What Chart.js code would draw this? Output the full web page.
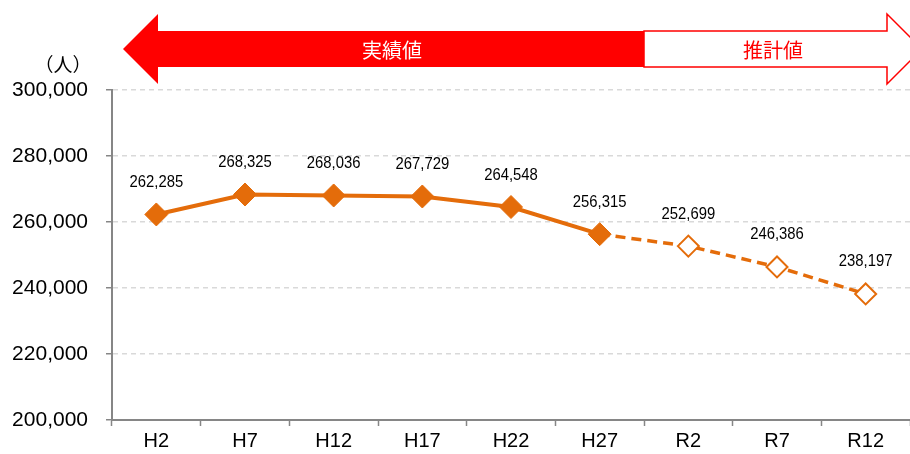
<!DOCTYPE html>
<html><head><meta charset="utf-8">
<script src="https://cdn.jsdelivr.net/npm/chart.js@4/dist/chart.umd.min.js"></script>
<style>html,body{margin:0;padding:0;background:#fff}#wrap{width:910px;height:454px}</style>
</head><body><div id="wrap"><canvas id="c" width="910" height="454"></canvas></div>
<script>
const categories = ["H2","H7","H12","H17","H22","H27","R2","R7","R12"];
const actualValues = [262285,268325,268036,267729,264548,256315,null,null,null];
const forecastValues = [null,null,null,null,null,256315,252699,246386,238197];
const labelValues = [262285,268325,268036,267729,264548,256315,252699,246386,238197];
const yTicks = {min:200000, max:300000, step:20000};
const unitLabel = "（人）";
const actualLabel = "実績値";
const forecastLabel = "推計値";
const ORANGE = "#E46C0A";
const RED = "#FF0000";

const decor = {
  id:'decor',
  afterDraw(chart){
    const ctx = chart.ctx, ca = chart.chartArea, xs = chart.scales.x, ys = chart.scales.y;
    ctx.save();
    ctx.font = '16.5px "Liberation Sans", Arial, sans-serif';
    ctx.fillStyle = '#000'; ctx.textAlign = 'center'; ctx.textBaseline = 'middle';
    labelValues.forEach((v,i)=>{
      const x = xs.getPixelForValue(i), y = ys.getPixelForValue(v);
      ctx.save();
      ctx.translate(x, y - 32);
      ctx.scale(0.9, 1);
      ctx.fillText(v.toLocaleString('en-US'), 0, 0);
      ctx.restore();
    });
    ctx.font = '19px "Noto Sans CJK JP", sans-serif';
    ctx.fillText(unitLabel, 63, ca.top - 25);
    const cy = ca.top - 41, hh = 35, sh = 18;
    const split = (xs.getPixelForValue(5) + xs.getPixelForValue(6)) / 2;
    const lt = ca.left + 11, lb = lt + 35;
    ctx.fillStyle = RED;
    ctx.beginPath();
    ctx.moveTo(lt, cy); ctx.lineTo(lb, cy - hh); ctx.lineTo(lb, cy - sh);
    ctx.lineTo(split, cy - sh); ctx.lineTo(split, cy + sh); ctx.lineTo(lb, cy + sh);
    ctx.lineTo(lb, cy + hh); ctx.closePath(); ctx.fill();
    const rb = ca.right - 23, rt = rb + 35;
    ctx.beginPath();
    ctx.moveTo(split, cy - sh); ctx.lineTo(rb, cy - sh); ctx.lineTo(rb, cy - hh);
    ctx.lineTo(rt, cy); ctx.lineTo(rb, cy + hh); ctx.lineTo(rb, cy + sh);
    ctx.lineTo(split, cy + sh); ctx.closePath();
    ctx.fillStyle = '#fff'; ctx.fill();
    ctx.strokeStyle = RED; ctx.lineWidth = 1.5; ctx.stroke();
    ctx.font = '20px "Noto Sans CJK JP", sans-serif';
    ctx.fillStyle = '#fff';
    ctx.fillText(actualLabel, 392, cy + 1);
    ctx.fillStyle = RED;
    ctx.fillText(forecastLabel, 773, cy + 1);
    ctx.restore();
  }
};

new Chart(document.getElementById('c'), {
  type:'line',
  data:{
    labels: categories,
    datasets:[
      {data: forecastValues, borderColor: ORANGE, borderWidth: 3.5, borderDash:[10,6],
       pointStyle:'rectRot', pointRadius: forecastValues.map((v,i)=> i===5?0:10.5),
       pointBackgroundColor:'#fff', pointBorderColor: ORANGE, pointBorderWidth: 2,
       tension:0, spanGaps:false, order:2},
      {data: actualValues, borderColor: ORANGE, borderWidth: 4,
       pointStyle:'rectRot', pointRadius: 11.5, pointBackgroundColor: ORANGE,
       pointBorderColor: ORANGE, pointBorderWidth: 1, tension:0, order:1}
    ]
  },
  options:{
    responsive:false, animation:false, devicePixelRatio:1,
    layout:{autoPadding:false, padding:{top:90, left:8, right:0, bottom:0}},
    plugins:{legend:{display:false}, tooltip:{enabled:false}},
    scales:{
      x:{offset:true,
         afterFit:(s)=>{ s.height = 34; s.paddingLeft = 0; s.paddingRight = 0; },
         grid:{display:true, drawOnChartArea:false, offset:true, tickLength:6, tickColor:'#868686', tickWidth:1.5},
         border:{color:'#868686', width:2},
         ticks:{color:'#000', padding:3, font:{family:'"Liberation Sans", Arial, sans-serif', size:20}}},
      y:{min:yTicks.min, max:yTicks.max,
         afterFit:(s)=>{ s.width = 104; s.paddingTop = 0; s.paddingBottom = 0; },
         grid:{color:'#d9d9d9', lineWidth:1.5, tickLength:6, tickColor:'#868686', tickBorderDash:[]},
         border:{color:'#868686', width:2, dash:[5,4]},
         ticks:{stepSize:yTicks.step, color:'#000', padding:18,
                font:{family:'"Liberation Sans", Arial, sans-serif', size:21},
                callback:(v)=>v.toLocaleString('en-US')}}
    }
  },
  plugins:[decor]
});
</script></body></html>
